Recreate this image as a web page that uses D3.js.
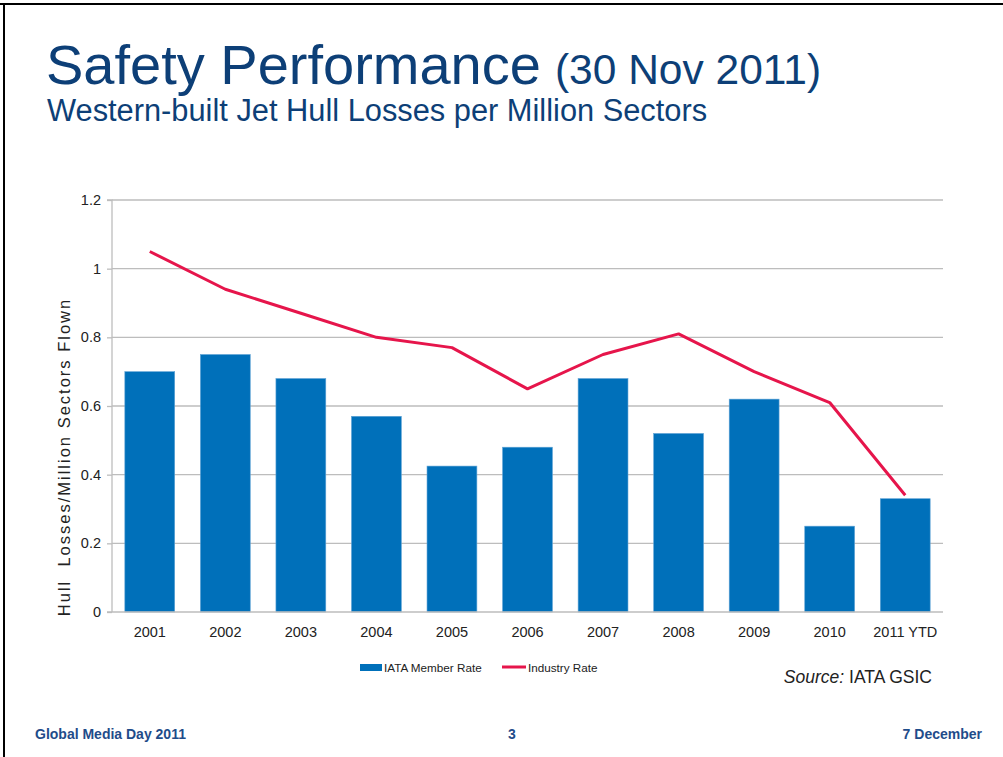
<!DOCTYPE html>
<html><head><meta charset="utf-8">
<script src="https://cdn.jsdelivr.net/npm/d3@7/dist/d3.min.js"></script>
<style>
body{margin:0;background:#fff;}
svg{display:block;font-family:Arial,"Liberation Sans",sans-serif;}
</style></head>
<body><svg id="c" width="1003" height="757"></svg>
<script>
const categories = ["2001","2002","2003","2004","2005","2006","2007","2008","2009","2010","2011 YTD"];
const memberRate = [0.70,0.75,0.68,0.57,0.425,0.48,0.68,0.52,0.62,0.25,0.33];
const industryRate = [1.05,0.94,0.87,0.80,0.77,0.65,0.75,0.81,0.70,0.61,0.34];
const yTicks = [0,0.2,0.4,0.6,0.8,1,1.2];

(function(){
const svg = d3.select("#c");
const navy = "#0D3F77";
const blue = "#0070BA";
const red = "#E6154B";
const FF = "Arial,'Liberation Sans',sans-serif";

// slide frame
svg.append("rect").attr("x",0).attr("y",3).attr("width",1003).attr("height",2).attr("fill","#000");
svg.append("rect").attr("x",3).attr("y",3).attr("width",2).attr("height",754).attr("fill","#000");

// titles
const t = svg.append("text").attr("x",46).attr("y",84).attr("fill",navy);
t.append("tspan").attr("font-size",56).text("Safety Performance");
t.append("tspan").attr("font-size",42.5).attr("dx",14).text("(30 Nov 2011)");
svg.append("text").attr("x",47).attr("y",121).attr("fill",navy).attr("font-size",30.8)
  .text("Western-built Jet Hull Losses per Million Sectors");

const pL=112, pR=943, pT=200, pB=612;
const x = d3.scaleBand().domain(categories).range([pL,pR]).paddingInner(0.34).paddingOuter(0.17);
const y = d3.scaleLinear().domain([0,1.2]).range([pB,pT]);

// gridlines
svg.append("g").selectAll("line").data(yTicks.filter(d=>d>0)).join("line")
  .attr("x1",pL).attr("x2",pR).attr("y1",d=>y(d)).attr("y2",d=>y(d))
  .attr("stroke","#BDBDBD").attr("stroke-width",1.3);

// bars
svg.append("g").selectAll("rect").data(categories).join("rect")
  .attr("x",d=>x(d)).attr("width",x.bandwidth())
  .attr("y",(d,i)=>y(memberRate[i])).attr("height",(d,i)=>pB-y(memberRate[i]))
  .attr("fill",blue).attr("stroke","#5FA3D6").attr("stroke-width",0.6);

// axes
const yAxis = d3.axisLeft(y).tickValues(yTicks).tickSize(5).tickPadding(6).tickFormat(d=>d3.format("")(d));
const ga = svg.append("g").attr("transform",`translate(${pL},0)`).call(yAxis);
ga.select(".domain").attr("stroke","#BDBDBD").attr("stroke-width",1.3).attr("d",`M-5,${pT}H0V${pB}`);
ga.selectAll(".tick line").attr("stroke","#BDBDBD").attr("stroke-width",1.3);
ga.selectAll(".tick text").attr("font-size",14.5).attr("fill","#222").attr("font-family",FF);

const xAxis = d3.axisBottom(x).tickSize(0).tickPadding(15);
const gx = svg.append("g").attr("transform",`translate(0,${pB})`).call(xAxis);
gx.select(".domain").attr("stroke","#BDBDBD").attr("stroke-width",1.3).attr("d",`M${pL-5},0H${pR}`);
gx.selectAll(".tick text").attr("font-size",14.5).attr("fill","#222").attr("font-family",FF);

// line
const line = d3.line().x((d,i)=>x(categories[i])+x.bandwidth()/2).y(d=>y(d));
svg.append("path").datum(industryRate).attr("d",line).attr("fill","none")
  .attr("stroke",red).attr("stroke-width",3).attr("stroke-linejoin","round");

// y label
svg.append("text").attr("transform",`translate(70,457) rotate(-90)`).attr("text-anchor","middle")
  .attr("font-size",16.5).attr("letter-spacing",2).attr("fill","#222").attr("xml:space","preserve")
  .text("Hull  Losses/Million Sectors Flown");

// legend
svg.append("rect").attr("x",360).attr("y",664).attr("width",22).attr("height",7).attr("fill",blue);
svg.append("text").attr("x",384).attr("y",672).attr("font-size",11.7).attr("fill","#222").text("IATA Member Rate");
svg.append("line").attr("x1",502).attr("x2",526).attr("y1",667).attr("y2",667).attr("stroke",red).attr("stroke-width",3);
svg.append("text").attr("x",528).attr("y",672).attr("font-size",11.7).attr("fill","#222").text("Industry Rate");

const s = svg.append("text").attr("x",932).attr("y",683).attr("text-anchor","end").attr("font-size",17.5).attr("fill","#222");
s.append("tspan").attr("font-style","italic").text("Source:");
s.append("tspan").text(" IATA GSIC");

// footer
const foot = svg.append("g").attr("fill","#1F4C8A").attr("font-size",14).attr("font-weight","bold");
foot.append("text").attr("x",35).attr("y",739).text("Global Media Day 2011");
foot.append("text").attr("x",512).attr("y",739).attr("text-anchor","middle").text("3");
foot.append("text").attr("x",982).attr("y",739).attr("text-anchor","end").text("7 December");
})();
</script></body></html>
